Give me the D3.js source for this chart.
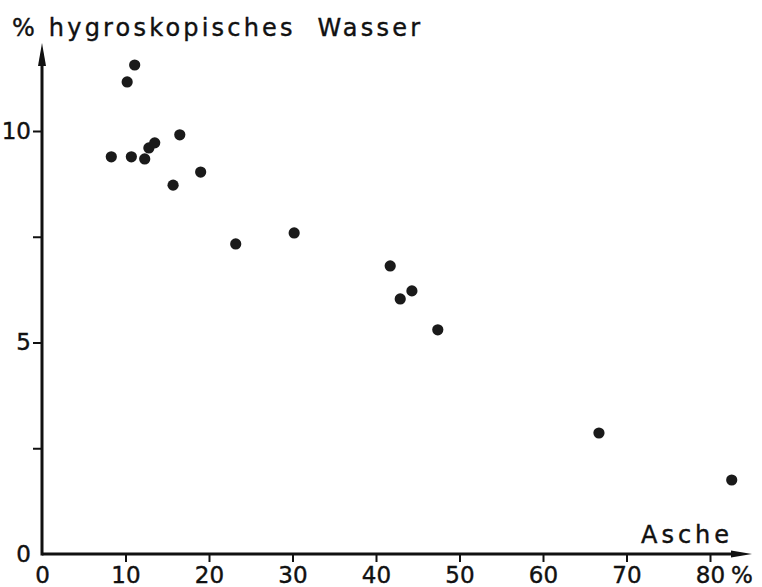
<!DOCTYPE html>
<html>
<head>
<meta charset="utf-8">
<script src="https://cdn.jsdelivr.net/npm/d3@7"></script>
<style>
  body { margin: 0; background: #fff; }
  svg { display: block; }
  text { font-family: "DejaVu Sans", sans-serif; fill: #111; stroke: #111; stroke-width: 0.4; }
</style>
</head>
<body>
<div id="chart"></div>
<script>
// ash content (%) vs hygroscopic water (%)
const asche = [8.3, 10.2, 11.1, 10.7, 12.3, 12.8, 13.5, 16.5, 15.7, 19.0, 23.2, 30.2, 41.7, 42.9, 44.3, 47.4, 66.7, 82.6];
const wasser = [9.39, 11.16, 11.56, 9.39, 9.34, 9.60, 9.72, 9.91, 8.72, 9.03, 7.33, 7.59, 6.81, 6.03, 6.22, 5.30, 2.86, 1.75];
const xTicks = [0, 10, 20, 30, 40, 50, 60, 70, 80];
const yTicks = [0, 2.5, 5, 7.5, 10];

const width = 762, height = 587;
const svg = d3.select('#chart').append('svg')
    .attr('width', width)
    .attr('height', height);

const x = d3.scaleLinear().domain([0, 80]).range([42, 710]);
const y = d3.scaleLinear().domain([0, 10]).range([554, 131]);

const ink = '#111';

// x axis ticks + labels
const gx = svg.append('g')
    .attr('transform', `translate(0,${y(0)})`)
    .call(d3.axisBottom(x).tickValues(xTicks).tickSize(8).tickFormat(d3.format('d')));
gx.select('.domain').remove();
gx.selectAll('.tick line').attr('stroke', ink).attr('stroke-width', 2)
    .filter(d => d === 0).remove();
gx.selectAll('.tick text').attr('font-size', 23).attr('dy', '0.71em').attr('y', 13);

// y axis ticks + labels (half steps get no label)
const gy = svg.append('g')
    .attr('transform', `translate(${x(0)},0)`)
    .call(d3.axisLeft(y).tickValues(yTicks).tickSize(9)
        .tickFormat(d => Number.isInteger(d) ? d : ''));
gy.select('.domain').remove();
gy.selectAll('.tick line').attr('stroke', ink).attr('stroke-width', 2)
    .filter(d => d === 0).remove();
gy.selectAll('.tick text').attr('font-size', 23).attr('x', -11);

// axis lines with arrows
svg.append('line')
    .attr('x1', x(0)).attr('y1', y(0))
    .attr('x2', 740).attr('y2', y(0))
    .attr('stroke', ink).attr('stroke-width', 3);
svg.append('path')
    .attr('d', `M752,${y(0)} L731,${y(0) - 3.5} L731,${y(0) + 3.5} Z`)
    .attr('fill', ink);

svg.append('line')
    .attr('x1', x(0)).attr('y1', y(0) + 1.5)
    .attr('x2', x(0)).attr('y2', 60)
    .attr('stroke', ink).attr('stroke-width', 3);
svg.append('path')
    .attr('d', `M${x(0)},43 L${x(0) - 4},66 L${x(0) + 4},66 Z`)
    .attr('fill', ink);

// axis titles
svg.append('text')
    .attr('x', 12).attr('y', 36)
    .attr('font-size', 24)
    .attr('textLength', 408).attr('lengthAdjust', 'spacing')
    .attr('xml:space', 'preserve')
    .text('% hygroskopisches  Wasser');

svg.append('text')
    .attr('x', 641).attr('y', 543)
    .attr('font-size', 24)
    .attr('textLength', 88).attr('lengthAdjust', 'spacing')
    .text('Asche');

svg.append('text')
    .attr('x', 731).attr('y', 583)
    .attr('font-size', 23)
    .text('%');

// points
svg.append('g')
    .selectAll('circle')
    .data(asche.map((a, i) => ({ a, w: wasser[i] })))
    .join('circle')
    .attr('cx', d => x(d.a))
    .attr('cy', d => y(d.w))
    .attr('r', 5.6)
    .attr('fill', '#1a1a1a');
</script>
</body>
</html>
